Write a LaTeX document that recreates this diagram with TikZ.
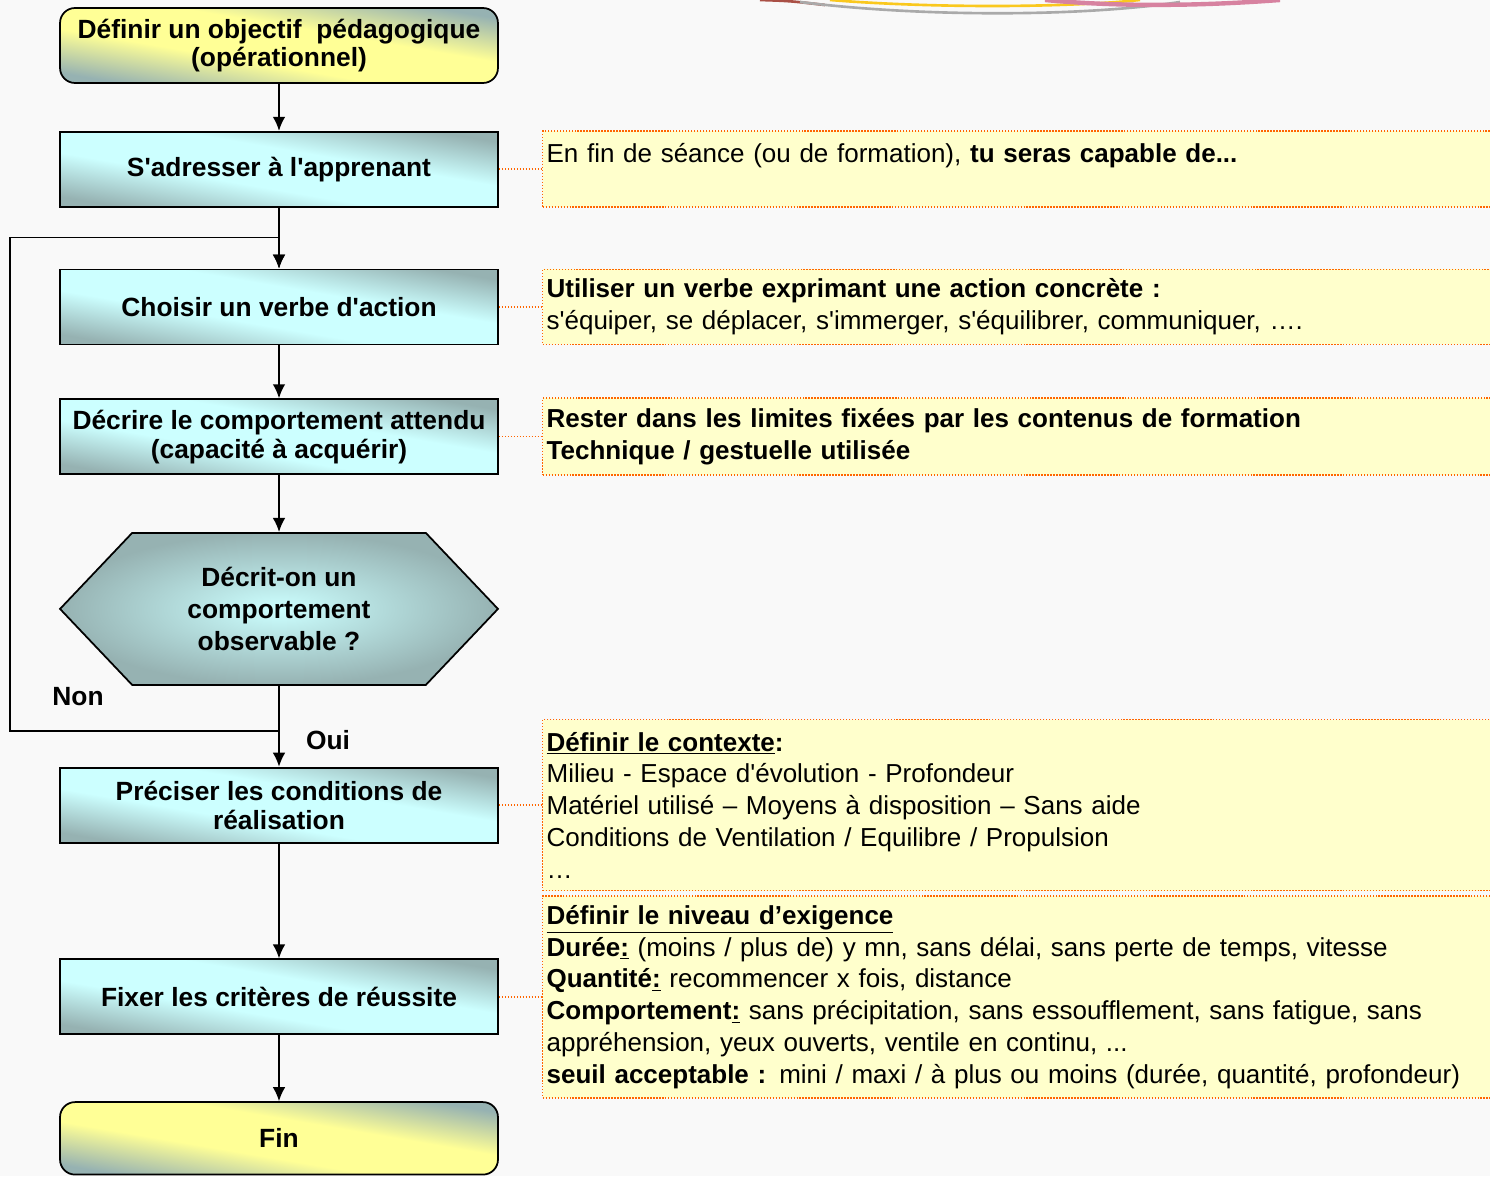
\documentclass[tikz,border=0pt]{standalone}
\usepackage{fontspec}
\setmainfont{Liberation Sans}[Ligatures=TeXOff]
\usetikzlibrary{shapes.symbols,arrows.meta,calc,positioning,backgrounds}
\definecolor{tealgrey}{RGB}{150,178,178}
\definecolor{cyanlt}{RGB}{204,255,255}
\definecolor{yellowlt}{RGB}{255,255,150}
\definecolor{notefill}{RGB}{255,255,204}
\definecolor{noteline}{RGB}{255,102,0}
\definecolor{bgpage}{RGB}{249,249,249}
\pgfdeclareverticalshading{stepshade}{100bp}{color(0bp)=(tealgrey); color(25bp)=(tealgrey);
    color(42bp)=(cyanlt); color(58bp)=(cyanlt); color(75bp)=(tealgrey); color(100bp)=(tealgrey)}
\pgfdeclareverticalshading{endshade}{100bp}{color(0bp)=(tealgrey); color(25bp)=(tealgrey);
    color(42bp)=(yellowlt); color(58bp)=(yellowlt); color(75bp)=(tealgrey); color(100bp)=(tealgrey)}

\begin{document}
\begin{tikzpicture}[x=0.02cm,y=-0.02cm,
        stepbox/.style={draw,line width=1pt,minimum width=8.76cm,minimum height=1.5cm,align=center,
            font=\bfseries\fontsize{15}{16.4}\selectfont,shading=stepshade,shading angle=-9.7},
        endbox/.style={stepbox,rounded corners=0.3cm,shading=endshade,shading angle=-9.7},
        testbox/.style={signal,signal to=west and east,signal pointer angle=93,draw,line width=1pt,
            minimum width=8.76cm,minimum height=3.04cm,inner sep=0pt,align=center,
            font=\bfseries\fontsize{15}{18.1}\selectfont,inner color=cyanlt,outer color=tealgrey},
        note/.style={draw=noteline,dash pattern=on 0.8pt off 0.9pt,line width=0.9pt,fill=notefill,
            text width=19.04cm,inner xsep=0.08cm,align=left,font=\fontsize{14.8}{18.1}\selectfont},
        link/.style={draw=noteline,dash pattern=on 0.8pt off 0.9pt,line width=0.9pt},
        flow/.style={-{Latex[length=8pt,width=7.2pt]},line width=1pt},
        lbl/.style={font=\bfseries\fontsize{15}{16.4}\selectfont}]

        \fill[bgpage] (0,0) rectangle (1490,1176);
        \useasboundingbox (0,0) rectangle (1490,1176);

        \draw[color={rgb,255:red,170;green,80;blue,70},line width=1.5pt] (760,0) .. controls (790,1) .. (825,5);
        \draw[color={rgb,255:red,250;green,200;blue,30},line width=1.5pt] (830,0) .. controls (930,8) and (1060,8) .. (1140,0);
        \draw[color={rgb,255:red,170;green,170;blue,170},line width=1.5pt] (800,2) .. controls (920,17) and (1080,17) .. (1180,2);
        \draw[color={rgb,255:red,215;green,130;blue,160},line width=2.5pt] (1045,0) .. controls (1120,7) and (1200,6) .. (1280,0);

        \node[endbox] (obj) at (279,45.5) {Définir un objectif \ pédagogique\\(opérationnel)};
        \node[stepbox] (adr) [below=0.94cm of obj] {S'adresser à l'apprenant};
        \node[stepbox] (verb) [below=1.22cm of adr] {Choisir un verbe d'action};
        \node[stepbox] (comp) [below=1.06cm of verb] {Décrire le comportement attendu\\(capacité à acquérir)};
        \node[testbox] (test) [below=1.14cm of comp] {Décrit-on un\\comportement\\observable ?};
        \node[stepbox] (cond) [below=1.62cm of test] {Préciser les conditions de\\réalisation};
        \node[stepbox] (crit) [below=2.3cm of cond] {Fixer les critères de réussite};
        \node[endbox,minimum height=1.45cm] (fin) [below=1.32cm of crit] {Fin};

        \node[note,minimum height=1.52cm] (n1) [right=0.86cm of adr]
            {En fin de séance (ou de formation), \textbf{tu seras capable de...}\\\mbox{}};
        \node[note,minimum height=1.5cm] (n2) [right=0.86cm of verb]
            {\textbf{Utiliser un verbe exprimant une action concrète :}\\
             s'équiper, se déplacer, s'immerger, s'équilibrer, communiquer, ….};
        \node[note,minimum height=1.54cm] (n3) [right=0.86cm of comp]
            {\textbf{Rester dans les limites fixées par les contenus de formation}\\
             \textbf{Technique / gestuelle utilisée}};
        \node[note,minimum height=3.42cm] (n4) [right=0.86cm of cond]
            {\textbf{\underline{Définir le contexte}:}\\
             Milieu - Espace d'évolution - Profondeur\\
             Matériel utilisé – Moyens à disposition – Sans aide\\
             Conditions de Ventilation / Equilibre / Propulsion\\
             …};
        \node[note,minimum height=4.04cm] (n5) [right=0.86cm of crit]
            {\textbf{\underline{Définir le niveau d’exigence}}\\
             \textbf{Durée\underline{:}} (moins / plus de) y mn, sans délai, sans perte de temps, vitesse\\
             \textbf{Quantité\underline{:}} recommencer x fois, distance\\
             \textbf{Comportement\underline{:}} sans précipitation, sans essoufflement, sans fatigue, sans\\
             appréhension, yeux ouverts, ventile en continu, ...\\
             \textbf{seuil acceptable :} mini / maxi / à plus ou moins (durée, quantité, profondeur)};

        \coordinate[above=0.72cm of cond.north] (j);
        \coordinate[above=0.62cm of verb.north] (k);
        \coordinate[left=0.98cm of verb.west] (w);

        \draw[flow] (obj) -- (adr);
        \draw[flow] (adr) -- (verb);
        \draw[flow] (verb) -- (comp);
        \draw[flow] (comp) -- (test);
        \draw[flow] (test) -- (cond);
        \draw[flow] (j) -| (w) |- (k) -- (verb);
        \draw[flow] (cond) -- (crit);
        \draw[flow] (crit) -- (fin);

        \draw[link] (adr) -- (n1);
        \draw[link] (verb) -- (n2);
        \draw[link] (comp) -- (n3);
        \draw[link] (cond) -- (n4);
        \draw[link] (crit) -- (n5);

        \node[lbl] (non) at (78,697) {Non};
        \node[lbl] (oui) at (328,740) {Oui};
\end{tikzpicture}
\end{document}
